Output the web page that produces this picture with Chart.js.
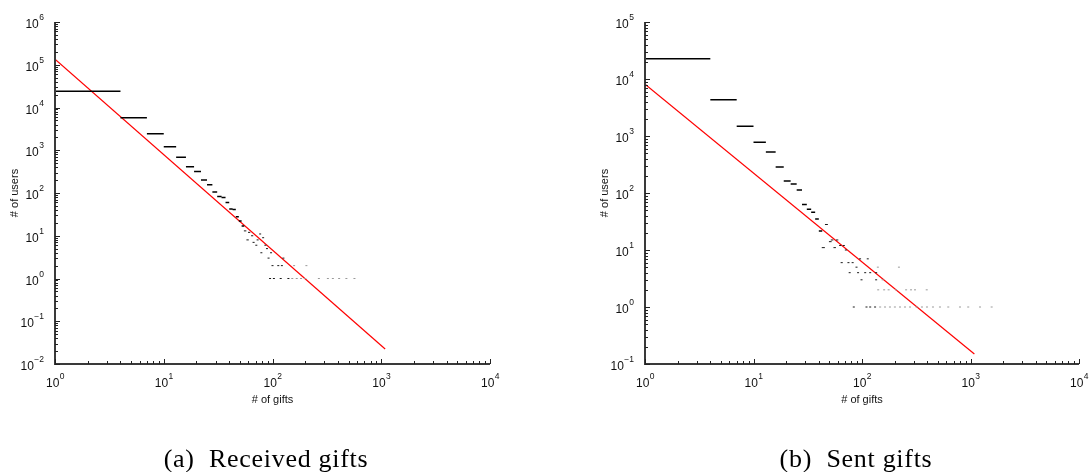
<!DOCTYPE html>
<html lang="en">
<head>
<meta charset="UTF-8">
<title>Gift distributions</title>
<script src="https://cdn.jsdelivr.net/npm/chart.js"></script>
<style>
  body { margin: 0; background: #fff; }
  #wrap { position: relative; width: 1091px; height: 472px; overflow: hidden; }
  .panel { position: absolute; top: 0; }
</style>
</head>
<body>
<div id="wrap">
  <canvas id="recvChart" class="panel" width="545" height="472" style="left:0"></canvas>
  <canvas id="sentChart" class="panel" width="546" height="472" style="left:545px"></canvas>
</div>
<script>
// (a) received gifts - histogram bins (start, end, # of users)
const recvBinStart = [1, 4, 7, 10, 13, 16, 19, 22, 25, 28, 31, 34, 37, 40, 43, 46, 49, 52];
const recvBinEnd   = [4, 7, 10, 13, 16, 19, 22, 25, 28, 31, 34, 37, 40, 43, 46, 49, 52, 55];
const recvBinUsers = [23900, 5770, 2440, 1210, 684, 412, 318, 201, 156, 105, 83, 79, 60, 42, 41, 28, 22, 17];
// sparse tail (bin start, # of users)
const recvTailGifts = [56, 61, 77, 65, 82, 59, 73, 67, 71, 86, 89, 97, 79, 92, 126,
                       100, 113, 122, 158, 205,
                       95, 103, 119, 140, 152, 167, 183, 200, 267, 323, 359, 410, 478, 567];
const recvTailUsers = [13, 12, 11, 10, 9, 8, 8, 7, 6, 6, 5, 4, 4, 3, 3,
                       2, 2, 2, 2, 2,
                       1, 1, 1, 1, 1, 1, 1, 1, 1, 1, 1, 1, 1, 1];
// power-law fit end points
const recvFitGifts = [1, 1086];
const recvFitUsers = [134000, 0.0224];

// (b) sent gifts
const sentBinStart = [1, 4, 7, 10, 13, 16, 19, 22, 25, 28, 31, 34, 37, 40];
const sentBinEnd   = [4, 7, 10, 13, 16, 19, 22, 25, 28, 31, 34, 37, 40, 43];
const sentBinUsers = [22700, 4340, 1480, 774, 524, 286, 163, 144, 113, 63, 52, 46, 35, 21.5];
const sentTailGifts = [47, 51, 53, 59, 44, 56, 63, 68, 71, 65, 75, 82, 96, 113, 89, 140, 219,
                       77, 92, 107, 119, 135, 99, 135, 155,
                       141, 160, 176, 206, 255, 283, 308, 395,
                       84, 110, 119, 132, 147, 163, 181, 201, 224, 249, 277, 319, 357, 397,
                       451, 523, 624, 800, 953, 1224, 1567];
const sentTailUsers = [28, 14, 15, 15, 11, 11, 12, 12, 10, 6, 6, 6, 7, 7, 5, 5, 5,
                       4, 4, 4, 4, 4, 3, 3, 3,
                       2, 2, 2, 2, 2, 2, 2, 2,
                       1, 1, 1, 1, 1, 1, 1, 1, 1, 1, 1, 1, 1, 1,
                       1, 1, 1, 1, 1, 1, 1];
const sentFitGifts = [1, 1086];
const sentFitUsers = [8070, 0.15];

const binWidth = 3;

// tick decades
const recvXExp = [0, 1, 2, 3, 4];
const recvYExp = [-2, -1, 0, 1, 2, 3, 4, 5, 6];
const sentXExp = [0, 1, 2, 3, 4];
const sentYExp = [-1, 0, 1, 2, 3, 4, 5];

function binSegments(starts, ends, vals) {
    const out = [];
    starts.forEach((s, i) => {
        out.push({x: s, y: vals[i]}, {x: ends[i], y: vals[i]}, {x: ends[i], y: null});
    });
    return out;
}
function pairs(xs, ys) {
    return xs.map((v, i) => ({x: v, y: ys[i]}));
}
function expText(e) {
    return String(e).replace('-', '\u2212');
}
// on-screen width of a tail bin
function tailWidth(c) {
    if (!c.raw) return 2;
    const sx = c.chart.scales.x;
    return sx.getPixelForValue(c.raw.x + binWidth) - sx.getPixelForValue(c.raw.x);
}
function tailRadius(c) {
    return Math.max(1, tailWidth(c) / 2);
}
function tailColor(c) {
    return tailWidth(c) < 1 ? '#9a9a9a' : '#1a1a1a';
}

// draws matlab-like axes: inward ticks, 10^n labels, titles, caption
const logAxes = {
    id: 'logAxes',
    afterDatasetsDraw(chart, args, o) {
        const ctx = chart.ctx;
        const a = chart.chartArea;
        const x = chart.scales.x, y = chart.scales.y;
        ctx.save();
        ctx.strokeStyle = '#3a3a3a';
        ctx.lineWidth = 2;
        ctx.beginPath();
        ctx.moveTo(a.left, a.top);
        ctx.lineTo(a.left, a.bottom);
        ctx.lineTo(a.right, a.bottom);
        ctx.stroke();

        ctx.lineWidth = 1;
        ctx.strokeStyle = '#222';
        ctx.beginPath();
        o.xExp.forEach((e, i) => {
            for (let m = 1; m < 10; m++) {
                if (m > 1 && i == o.xExp.length - 1) break;
                const px = Math.round(x.getPixelForValue(m * Math.pow(10, e))) + 0.5;
                const len = m == 1 ? 5 : 3;
                ctx.moveTo(px, a.bottom);
                ctx.lineTo(px, a.bottom - len);
            }
        });
        o.yExp.forEach((e, i) => {
            for (let m = 1; m < 10; m++) {
                if (m > 1 && i == o.yExp.length - 1) break;
                const py = Math.round(y.getPixelForValue(m * Math.pow(10, e))) + 0.5;
                const len = m == 1 ? 5 : 3;
                ctx.moveTo(a.left, py);
                ctx.lineTo(a.left + len, py);
            }
        });
        ctx.stroke();

        const base = '12px "Liberation Sans", Arial, sans-serif';
        const sup = '8.5px "Liberation Sans", Arial, sans-serif';
        ctx.fillStyle = '#111';
        ctx.textBaseline = 'alphabetic';
        ctx.textAlign = 'left';
        o.xExp.forEach(e => {
            const px = x.getPixelForValue(Math.pow(10, e));
            ctx.font = base;
            const w1 = ctx.measureText('10').width;
            ctx.font = sup;
            const w2 = ctx.measureText(expText(e)).width;
            const left = px - (w1 + w2) / 2;
            ctx.font = base;
            ctx.fillText('10', left, a.bottom + 23);
            ctx.font = sup;
            ctx.fillText(expText(e), left + w1 + 0.5, a.bottom + 15);
        });
        o.yExp.forEach(e => {
            const py = y.getPixelForValue(Math.pow(10, e));
            ctx.font = sup;
            const w2 = ctx.measureText(expText(e)).width;
            ctx.font = base;
            const w1 = ctx.measureText('10').width;
            const right = a.left - 11;
            ctx.fillText('10', right - w2 - w1 - 0.5, py + 6);
            ctx.font = sup;
            ctx.fillText(expText(e), right - w2, py - 2);
        });

        ctx.font = '11px "Liberation Sans", Arial, sans-serif';
        ctx.textAlign = 'center';
        ctx.fillText(o.xTitle, (a.left + a.right) / 2, a.bottom + 39);
        ctx.save();
        ctx.translate(a.left - 37, (a.top + a.bottom) / 2);
        ctx.rotate(-Math.PI / 2);
        ctx.fillText(o.yTitle, 0, 0);
        ctx.restore();

        ctx.font = '26px "Liberation Serif", "DejaVu Serif", serif';
        ctx.letterSpacing = '0.7px';
        ctx.fillStyle = '#000';
        ctx.fillText(o.caption, o.captionX, 467);
        ctx.restore();
    }
};

function makeChart(id, bins, tail, fit, xMax, yMin, yMax, pad, axisOpts) {
    new Chart(document.getElementById(id), {
        type: 'scatter',
        data: {
            datasets: [
                {
                    data: bins,
                    showLine: true,
                    spanGaps: false,
                    borderColor: '#000',
                    borderWidth: 1.5,
                    pointRadius: 0
                },
                {
                    data: tail,
                    pointStyle: 'line',
                    pointRadius: tailRadius,
                    borderColor: tailColor,
                    borderWidth: 1
                },
                {
                    data: fit,
                    showLine: true,
                    borderColor: '#ff0000',
                    borderWidth: 1.2,
                    pointRadius: 0
                }
            ]
        },
        options: {
            responsive: false,
            animation: false,
            layout: { padding: pad },
            plugins: {
                legend: { display: false },
                tooltip: { enabled: false },
                logAxes: axisOpts
            },
            scales: {
                x: { type: 'logarithmic', min: 1, max: xMax, display: false },
                y: { type: 'logarithmic', min: yMin, max: yMax, display: false }
            }
        },
        plugins: [logAxes]
    });
}

makeChart('recvChart',
    binSegments(recvBinStart, recvBinEnd, recvBinUsers),
    pairs(recvTailGifts, recvTailUsers),
    pairs(recvFitGifts, recvFitUsers),
    1e4, 1e-2, 1e6,
    {left: 55, right: 55, top: 22, bottom: 108},
    {xExp: recvXExp, yExp: recvYExp, xTitle: '# of gifts', yTitle: '# of users',
     caption: '(a)  Received gifts', captionX: 266});

makeChart('sentChart',
    binSegments(sentBinStart, sentBinEnd, sentBinUsers),
    pairs(sentTailGifts, sentTailUsers),
    pairs(sentFitGifts, sentFitUsers),
    1e4, 1e-1, 1e5,
    {left: 100, right: 12, top: 22, bottom: 108},
    {xExp: sentXExp, yExp: sentYExp, xTitle: '# of gifts', yTitle: '# of users',
     caption: '(b)  Sent gifts', captionX: 311});
</script>
</body>
</html>
